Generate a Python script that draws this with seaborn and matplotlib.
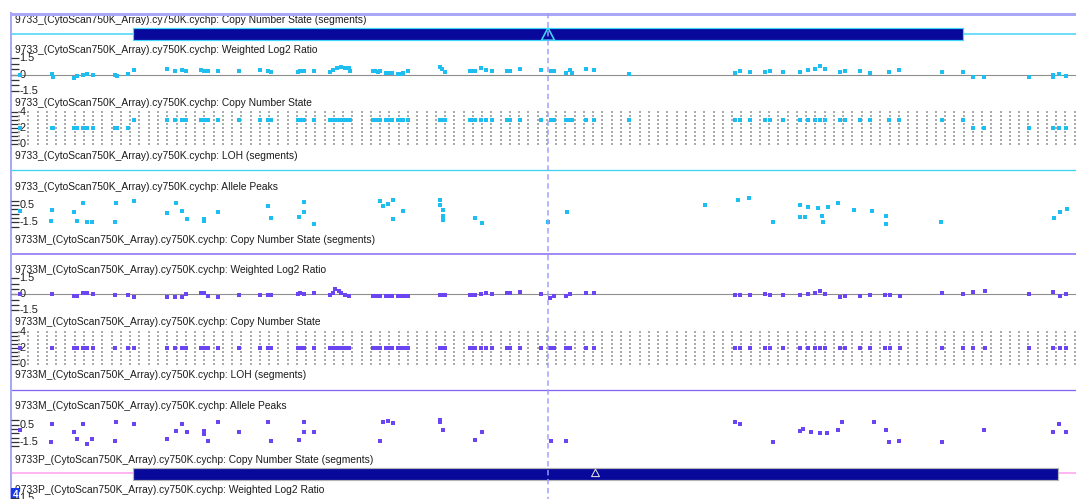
import numpy as np
import pandas as pd
import matplotlib
matplotlib.use("Agg")
import matplotlib.pyplot as plt
import seaborn as sns
from matplotlib.patches import Rectangle, Polygon

# ---------------------------------------------------------------- data
# probe positions (kb from view start) and per-probe values
pos_9733 = [20, 51.7, 53, 74, 76.7, 82.7, 86.7, 92.7, 115, 116.5, 128.3,
            134.3, 166.7, 175, 181.7, 186, 201, 204.3, 208.3, 217.7, 239,
            260, 268.3, 270.7, 298.3, 300, 304, 314, 330, 332.7, 337.3, 341,
            345, 349, 350, 372.7, 375, 378, 380, 386, 389, 391.7, 398.3, 401,
            403.3, 408.3, 440, 442, 445, 470, 472.5, 475, 480.7, 485.7, 492.3,
            506.7, 510, 520, 541, 551, 554.3, 566, 570, 572, 586, 594.3, 629.3,
            735, 740, 750, 765, 770, 783, 800, 808, 815, 820, 825, 840, 845,
            860, 870, 889.3, 899.3, 941.7, 963.3, 972.7, 984.3, 1029.3, 1052.7,
            1053.3, 1059.3, 1066]
log2_9733 = [0.0, 0.05, -0.21, -0.30, -0.14, -0.02, 0.05, -0.05, -0.02, -0.14,
             0.05, 0.42, 0.49, 0.33, 0.39, 0.33, 0.39, 0.36, 0.36, 0.30, 0.33,
             0.42, 0.33, 0.23, 0.23, 0.36, 0.33, 0.33, 0.26, 0.42, 0.58, 0.67,
             0.64, 0.58, 0.30, 0.33, 0.33, 0.28, 0.33, 0.11, 0.14, 0.17, 0.02,
             0.09, 0.17, 0.36, 0.73, 0.47, 0.26, 0.33, 0.37, 0.36, 0.58, 0.42,
             0.33, 0.33, 0.36, 0.49, 0.45, 0.30, 0.33, 0.17, 0.42, 0.17, 0.49,
             0.39, 0.05, 0.14, 0.33, 0.23, 0.23, 0.33, 0.23, 0.23, 0.42, 0.52,
             0.80, 0.52, 0.23, 0.33, 0.33, 0.14, 0.26, 0.39, 0.26, 0.26, -0.21,
             -0.21, -0.23, -0.23, -0.07, 0.02, -0.17]
cn_9733 = [2] * 11 + [3] * 75 + [2] * 7

pos_9733M = [20, 51.7, 74, 76.7, 82.7, 86.7, 92.7, 115, 128.3, 134.3, 166.7,
             175, 181.7, 186, 201, 204.3, 208.3, 217.7, 239, 260, 268.3, 270.7,
             298.3, 300, 304, 314, 330, 332.7, 335, 339.3, 341, 345, 349, 372.7,
             376, 380, 386, 389, 392, 398, 401, 404, 408, 440, 442, 445, 470,
             472.5, 475, 481, 486, 492, 507, 510, 520, 541, 550, 554, 566, 570,
             586, 594, 735, 740, 750, 765, 770, 783, 800, 808, 815, 820, 825,
             840, 845, 860, 870, 885, 890, 900, 942, 963, 973, 985, 1029, 1053,
             1060, 1066]
log2_9733M = [0.0, -0.01, -0.17, -0.17, 0.08, 0.08, 0.02, -0.07, -0.07, -0.23,
              -0.23, -0.23, -0.23, -0.01, 0.08, 0.08, -0.14, -0.23, -0.07, -0.07,
              -0.07, -0.07, -0.01, 0.08, 0.02, 0.08, -0.07, 0.08, 0.46, 0.33,
              0.08, -0.07, -0.14, -0.17, -0.17, -0.17, -0.17, -0.17, -0.17,
              -0.17, -0.17, -0.17, -0.17, -0.07, -0.07, -0.07, -0.07, -0.07,
              -0.07, 0.02, 0.11, 0.02, 0.11, 0.11, 0.20, 0.02, -0.36, -0.17,
              -0.17, 0.02, 0.11, 0.11, -0.07, -0.07, -0.07, 0.02, -0.07, -0.07,
              -0.07, 0.02, 0.11, 0.30, 0.02, -0.26, -0.17, -0.17, -0.07, -0.07,
              -0.07, -0.17, 0.11, 0.02, 0.20, 0.30, 0.02, 0.20, -0.17, 0.02]
cn_9733M = [2] * len(pos_9733M)

allele_pos_9733 = [20, 51.7, 51, 74, 76.7, 83.3, 86.7, 92.3, 116, 115, 134.3,
                   166.7, 175.7, 181.7, 186.7, 204, 204, 217.7, 267.7, 270.7,
                   299.3, 304.3, 304.3, 314.3, 380, 383, 388, 393, 393, 403, 440,
                   440, 443, 443, 443, 475, 482, 548, 567, 705, 738, 749, 773,
                   800, 800, 805, 808, 818, 822, 823, 828, 838, 854, 872, 886,
                   886, 941, 1054, 1060, 1067]
allele_9733 = [-0.19, -0.08, -1.35, -0.35, -1.35, 0.69, -1.50, -1.43, 0.69,
               -1.43, 0.99, -0.45, 0.69, -0.19, -1.16, -1.16, -1.35, -0.27,
               0.38, -1.00, -0.93, 0.88, -0.27, -1.74, 0.96, 0.38, 0.62, 1.08,
               -1.12, -0.19, 1.08, 0.50, -0.08, -0.77, -1.23, -1.00, -1.58,
               -1.47, -0.31, 0.50, 1.08, 1.31, -1.47, 0.50, -0.89, -0.89, 0.27,
               0.15, -0.77, -1.47, 0.27, 0.73, -0.08, -0.19, -0.77, -1.70,
               -1.47, -1.00, -0.31, 0.04]

allele_pos_9733M = [20, 51.7, 51, 74, 76.7, 83.3, 86.7, 92.3, 116, 115, 134.3,
                    166.7, 175.7, 181.7, 186.7, 204, 204, 208.3, 217.7, 239,
                    267.7, 270.7, 299.3, 304.3, 304.3, 314.3, 380, 383, 388, 393,
                    440, 440, 443, 475, 481.7, 551, 565.7, 735, 740, 773, 800,
                    803, 811, 820, 827, 838, 842, 874, 886, 889.3, 899.3, 941.7,
                    984.3, 1053.3, 1059.3, 1066]
allele_9733M = [-0.09, 0.58, -1.46, -0.35, -1.19, 0.58, -1.77, -1.19, 0.78,
                -1.39, 0.58, -1.19, -0.23, 0.58, -0.31, -0.23, -0.58, -1.39,
                0.78, -0.31, 0.85, -1.39, -1.27, 0.85, -0.38, -0.31, -1.39,
                0.85, 0.96, 0.70, 1.04, 0.81, -0.16, -1.23, -0.31, -1.39, -1.39,
                0.81, 0.58, -1.54, -0.23, 0.00, -0.35, -0.46, -0.46, -0.12,
                0.81, 0.81, -0.12, -1.54, -1.39, -1.46, -0.12, -0.31, 0.58,
                -0.31]

# copy-number segments: start, end (kb)
seg_start_9733 = [133]
seg_end_9733 = [963]
seg_start_9733P = [133]
seg_end_9733P = [1058]

cursor_pos = 548

chip = "(CytoScan750K_Array).cy750K.cychp"
track_names = ["Copy Number State (segments)", "Weighted Log2 Ratio",
               "Copy Number State", "LOH (segments)", "Allele Peaks"]

# ---------------------------------------------------------------- styling
sns.set_theme(style="white")
plt.rcParams["font.family"] = ["Liberation Sans", "DejaVu Sans"]

W, H = 1076, 499
LEFT = 11
BLOCK = 219.7
TXT = "#1c1c1c"
NAVY = "#08089A"
BORDER = "#A8A8F6"
line_col = {"9733": "#3DD3F6", "9733M": "#8466F2", "9733P": "#FF9FF0"}
dot_col = {"9733": "#1EBEF0", "9733M": "#6B45F2"}

fig = plt.figure(figsize=(W / 100, H / 100), dpi=100, facecolor="white")

bg = fig.add_axes([0, 0, 1, 1])
bg.set_xlim(0, W)
bg.set_ylim(H, 0)
bg.axis("off")


def px(v):
    return v * 0.72  # pixel -> points at 100 dpi


def track_axes(top, bottom, ref_px, ref_val, px_per_unit):
    ax = fig.add_axes([LEFT / W, 1 - bottom / H, (W - LEFT) / W,
                       (bottom - top) / H])
    ax.set_xlim(LEFT, W)
    ax.set_ylim(ref_val - (bottom - ref_px) / px_per_unit,
                ref_val + (ref_px - top) / px_per_unit)
    ax.patch.set_alpha(0)
    for s in ax.spines.values():
        s.set_visible(False)
    ax.set_xticks([])
    return ax


def add_ticks(ax, ticks, labels):
    ax.set_yticks(ticks)
    ax.tick_params(axis="y", which="major", direction="in", length=6,
                   width=0.9, colors="#333333", left=True, labelleft=False)
    tr = ax.get_yaxis_transform()
    for v, t in labels.items():
        ax.text(8.5 / (W - LEFT), v, t, transform=tr, ha="left",
                va="center", fontsize=7.8, color=TXT)


def dots(ax, x, y, color):
    sns.scatterplot(x=x, y=y, ax=ax, marker="s", s=6, color=color,
                    linewidth=0, legend=False, zorder=3)


grid_x = np.arange(19.1, W, 9.26)
grid_y = np.arange(0, 4.01, 0.5)
gx, gy = np.meshgrid(grid_x, grid_y)

samples = [
    ("9733", "9733_", pos_9733, log2_9733, cn_9733, allele_pos_9733,
     allele_9733, seg_start_9733, seg_end_9733),
    ("9733M", "9733M_", pos_9733M, log2_9733M, cn_9733M, allele_pos_9733M,
     allele_9733M, [], []),
    ("9733P", "9733P_", [], [], [], [], [], seg_start_9733P, seg_end_9733P),
]

title_rows = [20.2, 50.2, 102.6, 155.6, 186.6]

for i, (key, prefix, pos, l2, cn, apos, aval, s0, s1) in enumerate(samples):
    o = i * BLOCK
    lc = line_col[key]
    # track titles
    n_titles = 5 if key != "9733P" else 2
    for r, name in zip(title_rows[:n_titles], track_names[:n_titles]):
        bg.text(15, r + o, f"{prefix}{chip}: {name}", fontsize=7.4,
                color=TXT, ha="left", va="center")

    # segment track
    bg.plot([LEFT - 1, W], [34 + o, 34 + o], color=lc, lw=px(1.5),
            solid_capstyle="butt", zorder=1)
    edge = "#3FD8F8" if key == "9733" else "#B4B4B4"
    tri_edge = "#3FD8F8" if key == "9733" else "#E6E6E6"
    for a, b in zip(s0, s1):
        top_y = 27.8 + o if key == "9733" else 27.8 + o + 0.3
        bg.add_patch(Rectangle((a, top_y), b - a, 12.4, fc=NAVY, ec=edge,
                               lw=px(1.2), zorder=2))
        mid = (a + b) / 2
        if key == "9733":
            hw, y_top, y_bot, lw = 6.5, 27.8 + o, 40.2 + o, 1.6
        else:
            hw, y_top, y_bot, lw = 4.0, 29.8 + o, 37.2 + o, 1.0
        bg.add_patch(Polygon([(mid - hw, y_bot), (mid, y_top),
                              (mid + hw, y_bot)], closed=True, fc=NAVY,
                             ec=tri_edge, lw=px(lw), zorder=3))

    # weighted log2 ratio
    ax = track_axes(54 + o, 95 + o, 74.5 + o, 0.0, 10.67)
    ax.axhline(0, color="#8E8E8E", lw=px(1.1), zorder=1)
    add_ticks(ax, np.arange(-1.5, 1.51, 0.5), {1.5: "1.5", 0: "0", -1.5: "-1.5"})
    if pos:
        dots(ax, pos, l2, dot_col[key])

    if key == "9733P":
        continue

    # copy number state
    ax = track_axes(108 + o, 148 + o, 112 + o, 4.0, 8.0)
    ax.scatter(gx.ravel(), gy.ravel(), marker="s", s=0.6, color="#ABABAB",
               linewidths=0, zorder=1)
    add_ticks(ax, np.arange(0, 4.01, 0.5), {4: "4", 2: "2", 0: "0"})
    dots(ax, pos, cn, dot_col[key])

    # LOH segments
    bg.plot([LEFT - 1, W], [170 + o, 170 + o], color=lc, lw=px(1.3),
            solid_capstyle="butt", zorder=1)

    # allele peaks
    ax = track_axes(196 + o, 230 + o, 205 + o, 0.5, 8.65)
    add_ticks(ax, np.arange(-2.0, 1.01, 0.5), {0.5: "0.5", -1.5: "-1.5"})
    dots(ax, apos, aval, dot_col[key])

# window frame
bg.plot([LEFT - 1, W], [13.5, 13.5], color=BORDER, lw=px(3),
        solid_capstyle="butt", zorder=4)
bg.plot([10.5, 10.5], [12, H], color=BORDER, lw=px(2),
        solid_capstyle="butt", zorder=4)
bg.plot([LEFT, W], [498.5, 498.5], color="#E2E2FB", lw=px(1), zorder=1)
bg.text(15.2, 494.6, "4", color="white", fontsize=7, fontweight="bold",
        ha="center", va="center",
        bbox=dict(boxstyle="square,pad=0.12", fc="#1A3AE6", ec="none"),
        zorder=6)

# cursor line across all tracks
top = fig.add_axes([0, 0, 1, 1], zorder=5)
top.set_xlim(0, W)
top.set_ylim(H, 0)
top.axis("off")
top.patch.set_alpha(0)
top.plot([cursor_pos, cursor_pos], [13, H], color="#9C9CFF", lw=px(1.6),
         ls=(0, (3.4, 2.2)), alpha=0.9)

fig.savefig("out.png", dpi=100, facecolor="white")
